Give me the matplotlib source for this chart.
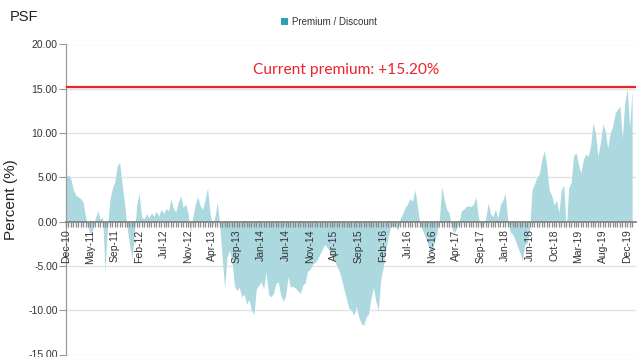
import matplotlib
matplotlib.use("Agg")
import matplotlib.pyplot as plt
from matplotlib.patches import Patch
from matplotlib.ticker import FixedLocator, FixedFormatter

plt.rcParams['font.family'] = ['Liberation Sans', 'DejaVu Sans']

title = "PSF"
series_name = "Premium / Discount"
y_label = "Percent (%)"
current_premium = 15.20
annotation = "Current premium: +15.20%"

tick_labels = ["Dec-10", "May-11", "Sep-11", "Feb-12", "Jul-12", "Nov-12", "Apr-13",
               "Sep-13", "Jan-14", "Jun-14", "Nov-14", "Apr-15", "Sep-15", "Feb-16",
               "Jul-16", "Nov-16", "Apr-17", "Sep-17", "Jan-18", "Jun-18", "Oct-18",
               "Mar-19", "Aug-19", "Dec-19"]
label_every = 10

premium = [
    5.0, 5.3, 4.8, 3.6, 3.0, 2.8, 2.6, 2.2, 0.6, -0.6,
    -1.4, -0.9, 0.4, 1.2, 0.3, 0.5, -5.6, -0.5, 2.5, 3.8,
    4.5, 6.3, 6.7, 4.2, 2.0, -0.5, -2.5, -4.1, -1.5, 2.0,
    3.2, 0.5, 0.3, 0.9, 0.4, 1.0, 0.6, 1.2, 0.6, 1.4,
    0.9, 1.5, 1.2, 2.6, 1.5, 1.1, 2.2, 2.9, 1.6, 2.0,
    1.0, -1.2, 0.5, 2.0, 2.8, 1.8, 1.4, 2.5, 3.8, 1.0,
    -0.5, 0.5, 2.2, -0.5, -4.0, -7.5, -4.0, -3.2, -4.4, -7.2,
    -7.8, -7.4, -8.5, -8.2, -9.3, -8.8, -10.0, -10.5, -7.6, -7.2,
    -6.8, -7.6, -5.7, -8.2, -8.5, -8.1, -7.0, -6.8, -8.3, -9.0,
    -8.4, -6.2, -7.4, -7.3, -7.5, -7.8, -8.1, -7.2, -6.9, -5.6,
    -5.4, -4.8, -4.6, -4.3, -3.7, -3.1, -2.6, -2.9, -3.3, -3.8,
    -4.4, -5.0, -5.6, -6.6, -7.7, -8.8, -9.8, -10.0, -10.6, -9.6,
    -10.8, -11.5, -11.7, -10.8, -10.4, -8.6, -7.4, -9.0, -10.0, -6.5,
    -5.2, -3.3, -1.8, -0.6, -0.4, -0.5, -1.0, 0.4, 0.9, 1.6,
    2.0, 2.6, 2.3, 3.6, 1.8, -0.3, -0.9, -1.6, -2.3, -3.2,
    -3.6, -2.2, -1.3, 0.3, 3.9, 2.5, 1.4, 1.0, -0.6, -1.3,
    -0.8, -0.2, 1.2, 1.4, 1.7, 1.8, 1.7, 2.0, 2.8, 0.5,
    -0.8, -0.4, 0.3, 2.1, 0.9, 0.6, 1.4, 0.4, 1.9, 2.4,
    3.2, 0.3, -1.2, -1.4, -2.0, -2.8, -3.5, -4.4, -2.6, -2.4,
    -1.0, 3.6, 4.3, 5.0, 5.4, 7.0, 8.0, 6.3, 3.6, 3.0,
    1.9, 2.4, 1.0, 3.6, 4.1, -1.0, 3.8, 4.4, 7.4, 7.8,
    6.5, 5.5, 7.0, 7.6, 7.4, 8.5, 11.2, 10.0, 7.4, 8.9,
    11.0, 10.3, 8.3, 10.0, 10.7, 12.2, 12.7, 13.0, 9.4, 13.4,
    15.1, 10.6, 15.0,
]

y_ticks = [-15, -10, -5, 0, 5, 10, 15, 20]

fill_color = '#acd8e0'
legend_color = '#2f9fb5'
red = '#ee2229'

W, H = 640, 357
fig = plt.figure(figsize=(W / 100, H / 100), dpi=100)
ax = fig.add_axes([66 / W, 2.5 / H, 570 / W, 310 / H])

n = len(premium)
xs = list(range(n))
ax.fill_between(xs, 0, premium, color=fill_color, linewidth=0, zorder=2)

ax.set_xlim(0, 233.6)
ax.set_ylim(-15, 20)

# grid lines (behind the area)
for v in y_ticks:
    if v != 0:
        ax.axhline(v, color='#e3e3e3', linewidth=1.0, zorder=0.5)
ax.set_axisbelow(False)

ax.set_yticks(y_ticks)
ax.set_yticklabels([f"{v:.2f}" for v in y_ticks])
ax.tick_params(axis='y', length=5, width=0.8, color='#999999', labelsize=7.5,
               labelcolor='#333333', pad=1)

for s in ['top', 'right']:
    ax.spines[s].set_visible(False)
ax.spines['left'].set_color('#999999')
ax.spines['left'].set_linewidth(0.9)
ax.spines['bottom'].set_position(('data', 0))
ax.spines['bottom'].set_color('#7a7a7a')
ax.spines['bottom'].set_linewidth(1.2)
ax.spines['bottom'].set_zorder(5)

labels = [''] * n
for k, lab in enumerate(tick_labels):
    labels[k * label_every] = lab
ax.xaxis.set_major_locator(FixedLocator(xs))
ax.xaxis.set_major_formatter(FixedFormatter(labels))
ax.tick_params(axis='x', length=3.5, width=0.9, color='#8a8a8a', labelsize=7.5,
               labelcolor='#333333', rotation=90, pad=2)
ax.xaxis.set_zorder(5)

# current premium line
ax.axhline(current_premium, color=red, linewidth=1.6, zorder=6)
ax.text((346 - 66) / 570, 17.1, annotation, transform=ax.get_yaxis_transform(),
        color=red, fontsize=11.2, ha='center', va='center', family=['Lato', 'DejaVu Sans'])

ax.set_ylabel(y_label, fontsize=11, color='#222222')
ax.yaxis.set_label_coords(-(66 - 18) / 570, 0.5)

fig.text(10 / W, 1 - 17 / H, title, fontsize=10.5, ha='left', va='center', color='#222222')

fig.legend(handles=[Patch(facecolor=legend_color, edgecolor='none', label=series_name)],
           loc='center', bbox_to_anchor=(329 / W, 1 - 22 / H), frameon=False,
           fontsize=7, handlelength=0.7, handleheight=0.7, handletextpad=0.5,
           labelcolor='#333333')

fig.savefig("out.png", dpi=100)
